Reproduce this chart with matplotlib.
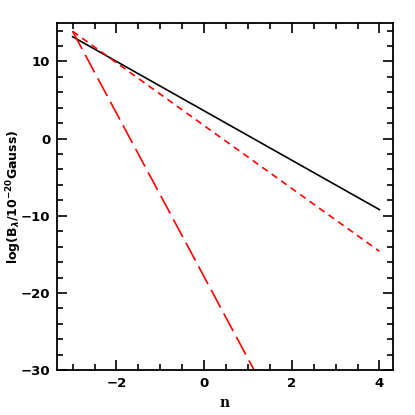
import matplotlib.pyplot as plt
from matplotlib.ticker import MultipleLocator

# endpoints of each line
n = [-3.0, 4.0]
logB_black = [13.2, -9.2]
logB_short = [13.9, -14.6]
logB_long = [13.9, -60.3]

plt.rcParams["font.family"] = ["DejaVu Sans"]
plt.rcParams["font.weight"] = "bold"

fig = plt.figure(figsize=(4.15, 4.15), dpi=100)
ax = fig.add_axes([0.138, 0.108, 0.808, 0.837])

ax.plot(n, logB_black, color="black", linewidth=1.2)
ax.plot(n, logB_short, color="red", linewidth=1.2, dashes=(4, 3))
ax.plot(n, logB_long, color="red", linewidth=1.2, dashes=(12, 4))

ax.set_xlim(-3.35, 4.3)
ax.set_ylim(-30, 15)

ax.xaxis.set_major_locator(MultipleLocator(2))
ax.xaxis.set_minor_locator(MultipleLocator(0.5))
ax.yaxis.set_major_locator(MultipleLocator(10))
ax.yaxis.set_minor_locator(MultipleLocator(2))
ax.tick_params(which="both", direction="in", top=True, right=True, width=1.2)
ax.tick_params(which="major", length=7, labelsize=9.5, pad=5)
ax.tick_params(which="minor", length=4)
for s in ax.spines.values():
    s.set_linewidth(1.3)

ax.set_xlabel("n", fontsize=10, fontweight="bold", family="DejaVu Serif")
ax.set_ylabel(r"log(B$_\lambda$/10$^{-20}$Gauss)", fontsize=9, fontweight="bold")
ax.yaxis.set_label_coords(-0.10, 0.5)
ax.xaxis.set_label_coords(0.5, -0.075)

fig.savefig("out.png", dpi=100)
